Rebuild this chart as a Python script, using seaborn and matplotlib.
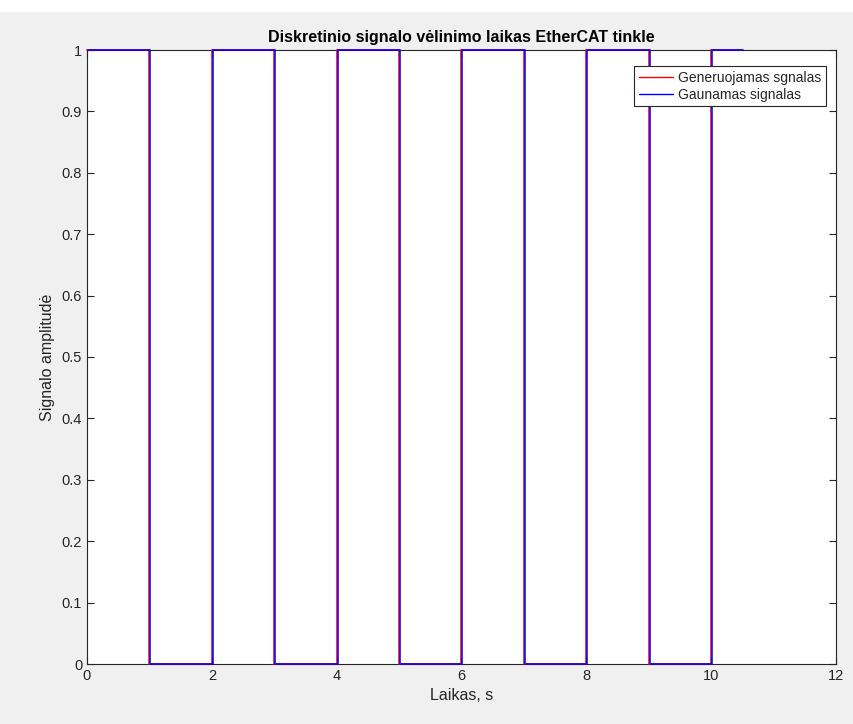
import numpy as np
import pandas as pd
import matplotlib
matplotlib.use("Agg")
import matplotlib.pyplot as plt
import seaborn as sns

# Square-wave switching instants (s) and the level held from each instant
edge_times = [0, 1, 2, 3, 4, 5, 6, 7, 8, 9, 10, 10.5]
levels = [1, 0, 1, 0, 1, 0, 1, 0, 1, 0, 1, 1]
# Network transfer delay of the received signal (s)
delay = 0.015

series_names = ["Generuojamas sgnalas", "Gaunamas signalas"]
series_colors = ["#ff0000", "#0000ff"]

df = pd.concat([
    pd.DataFrame({"t": edge_times, "v": levels, "s": series_names[0]}),
    pd.DataFrame({"t": [t + delay for t in edge_times], "v": levels, "s": series_names[1]}),
])

sns.set_style("ticks")
plt.rcParams["font.family"] = ["Liberation Sans", "DejaVu Sans"]

fig = plt.figure(figsize=(8.54, 7.24), dpi=100, facecolor="#f0f0f0")
fig.patches.append(plt.Rectangle((0, 1 - 12 / 724), 1, 12 / 724, transform=fig.transFigure,
                                 facecolor="white", edgecolor="none", zorder=-1))
ax = fig.add_axes([87 / 854, 60 / 724, (836 - 87) / 854, (664 - 50) / 724])
ax.set_facecolor("white")

for name, color in zip(series_names, series_colors):
    sub = df[df["s"] == name]
    sns.lineplot(data=sub, x="t", y="v", ax=ax, color=color, label=name,
                 drawstyle="steps-post", estimator=None, sort=False, linewidth=1.4,
                 alpha=0.8)
for line in ax.get_lines():
    line.set_clip_on(False)
    line.set_zorder(3)

ax.set_xlim(0, 12)
ax.set_ylim(0, 1)
ax.set_xticks(np.arange(0, 13, 2))
ax.set_yticks(np.round(np.arange(0, 1.01, 0.1), 1))
ax.set_yticklabels(["0", "0.1", "0.2", "0.3", "0.4", "0.5", "0.6", "0.7", "0.8", "0.9", "1"])

axis_color = "#262626"
for sp in ax.spines.values():
    sp.set_visible(True)
    sp.set_color(axis_color)
    sp.set_linewidth(0.8)
    sp.set_zorder(2)
ax.tick_params(direction="in", length=5, width=0.8, color=axis_color,
               labelcolor=axis_color, labelsize=10.5, top=True, right=True)

ax.set_title("Diskretinio signalo vėlinimo laikas EtherCAT tinkle",
             fontsize=11.5, fontweight="bold", color="black", pad=6)
ax.set_xlabel("Laikas, s", fontsize=11.5, color=axis_color, labelpad=4)
ax.set_ylabel("Signalo amplitudė", fontsize=11.5, color=axis_color, labelpad=5)

leg = ax.legend(loc="upper right", bbox_to_anchor=(0.987, 0.974), fontsize=10,
                frameon=True, fancybox=False, framealpha=1, edgecolor=axis_color,
                handlelength=2.4, handletextpad=0.4, borderpad=0.35, labelspacing=0.2,
                borderaxespad=0)
leg.get_frame().set_linewidth(0.8)
leg.set_zorder(5)
for h in leg.get_lines():
    h.set_linewidth(1.0)
    h.set_alpha(1)
for t in leg.get_texts():
    t.set_color(axis_color)

fig.savefig("out.png", dpi=100, facecolor=fig.get_facecolor())
